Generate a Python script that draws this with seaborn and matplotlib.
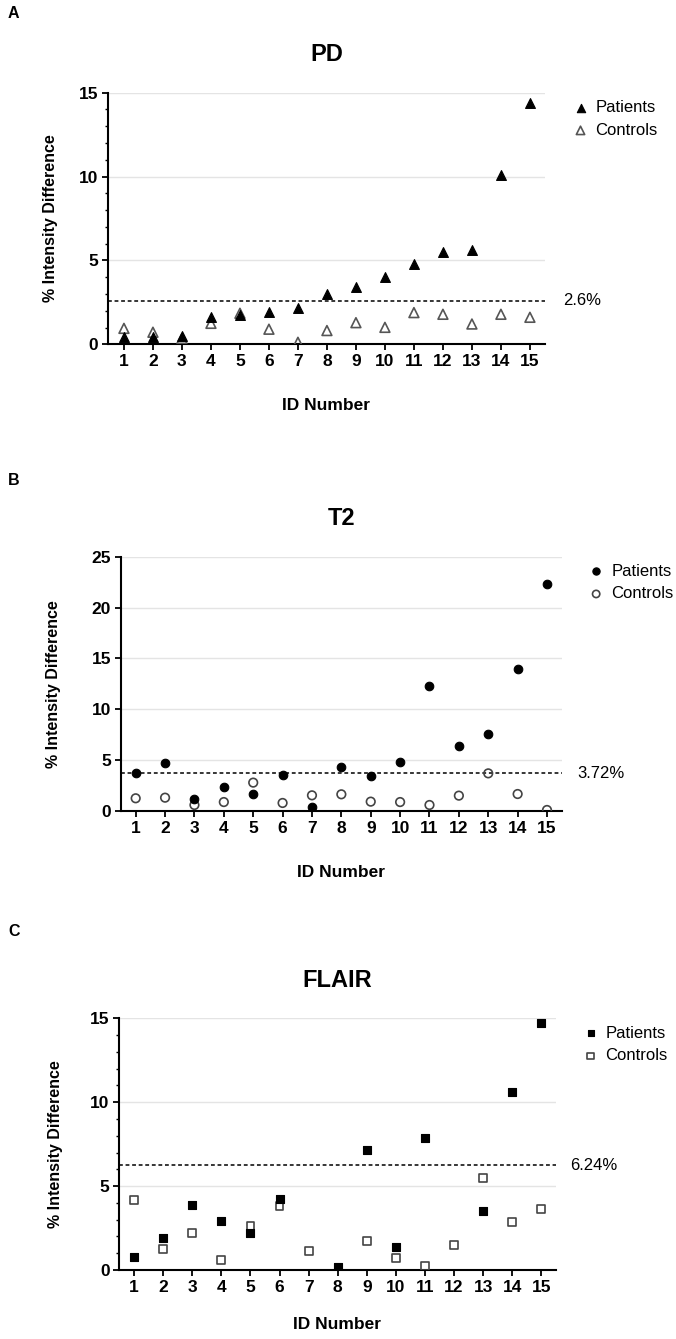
import numpy as np
import pandas as pd
import matplotlib
matplotlib.use('Agg')
import matplotlib.pyplot as plt
from matplotlib.ticker import MultipleLocator
import seaborn as sns

ids = list(range(1, 16))

pd_patients = [0.42, 0.42, 0.5, 1.65, 1.73, 1.95, 2.19, 2.98, 3.44, 4.04, 4.79, 5.53, 5.63, 10.1, 14.37]
pd_controls = [0.95, 0.72, 0.35, 1.25, 1.85, 0.9, 0.12, 0.82, 1.29, 1.01, 1.89, 1.79, 1.21, 1.79, 1.61]
pd_cutoff = 2.6

t2_patients = [3.70, 4.69, 1.15, 2.39, 1.67, 3.54, 0.36, 4.36, 3.44, 4.82, 12.32, 6.39, 7.6, 13.96, 22.35]
t2_controls = [1.25, 1.31, 0.59, 0.88, 2.79, 0.79, 1.54, 1.64, 0.92, 0.88, 0.59, 1.51, 3.70, 1.67, 0.1]
t2_cutoff = 3.72

flair_patients = [0.79, 1.89, 3.87, 2.9, 2.23, 4.25, np.nan, 0.2, 7.13, 1.35, 7.89, np.nan, 3.5, 10.59, 14.7]
flair_controls = [4.15, 1.25, 2.2, 0.6, 2.64, 3.81, 1.13, np.nan, 1.73, 0.74, 0.24, 1.47, 5.48, 2.86, 3.62]
flair_cutoff = 6.24

sns.set_theme(style="ticks")
plt.rcParams['font.family'] = ['Liberation Sans', 'DejaVu Sans']
for key in ('text.color', 'axes.labelcolor', 'xtick.color', 'ytick.color', 'axes.edgecolor'):
    plt.rcParams[key] = 'black'

W, H = 676, 1339
fig = plt.figure(figsize=(W / 100, H / 100), dpi=100)


def px_axes(left, right, top, bottom):
    return fig.add_axes([left / W, (H - bottom) / H, (right - left) / W, (bottom - top) / H])


panels = [
    dict(letter='A', letter_y=14, title='PD', box=(108, 545, 92.7, 344.3), xlim=(0.45, 15.52),
         ymax=15, minor=True, marker='^', size=50, patients=pd_patients, controls=pd_controls,
         cutoff=pd_cutoff, cut_label='2.6%', cut_x=1.041, leg=(1.066, 0.97), edge='#555555',
         xpad=21, ypad=15),
    dict(letter='B', letter_y=480, title='T2', box=(120.7, 561.7, 556.7, 811), xlim=(0.49, 15.5),
         ymax=25, minor=False, marker='o', size=38, patients=t2_patients, controls=t2_controls,
         cutoff=t2_cutoff, cut_label='3.72%', cut_x=1.035, leg=(1.063, 0.972), edge='#444444',
         xpad=21, ypad=22),
    dict(letter='C', letter_y=931, title='FLAIR', box=(119.3, 555.5, 1018.3, 1270), xlim=(0.49, 15.49),
         ymax=15, minor=True, marker='s', size=32, patients=flair_patients, controls=flair_controls,
         cutoff=flair_cutoff, cut_label='6.24%', cut_x=1.033, leg=(1.065, 0.97), edge='#444444',
         xpad=16, ypad=19.5),
]

for p in panels:
    ax = px_axes(*p['box'])
    df = pd.DataFrame({'ID': ids, 'Patients': p['patients'], 'Controls': p['controls']})

    sns.scatterplot(data=df, x='ID', y='Patients', marker=p['marker'], s=p['size'],
                    color='black', edgecolor='black', linewidth=0.8, label='Patients',
                    ax=ax, zorder=4)
    sns.scatterplot(data=df, x='ID', y='Controls', marker=p['marker'], s=p['size'],
                    facecolor='none', edgecolor=p['edge'], linewidth=1.2, label='Controls',
                    ax=ax, zorder=3)

    ax.axhline(p['cutoff'], color='black', lw=1.1, ls=(0, (2.5, 1.8)), zorder=2)
    ax.text(p['cut_x'], p['cutoff'], p['cut_label'], transform=ax.get_yaxis_transform(),
            va='center', ha='left', fontsize=12)

    ax.set_xlim(*p['xlim'])
    ax.set_ylim(0, p['ymax'])
    ax.set_xticks(ids)
    ax.yaxis.set_major_locator(MultipleLocator(5))
    if p['minor']:
        ax.yaxis.set_minor_locator(MultipleLocator(1))
    for yv in range(5, p['ymax'] + 1, 5):
        ax.axhline(yv, color='#e4e4e4', lw=1.0, zorder=0)

    ax.tick_params(axis='both', which='major', length=4, width=1.3, pad=3, labelsize=12.5)
    ax.tick_params(axis='y', which='minor', length=2.5, width=1.0)
    for lab in ax.get_xticklabels() + ax.get_yticklabels():
        lab.set_fontweight('bold')
    sns.despine(ax=ax)
    for s in ('left', 'bottom'):
        ax.spines[s].set_linewidth(1.5)

    ax.set_title(p['title'], fontsize=17, fontweight='bold', pad=22.5)
    ax.set_xlabel('ID Number', fontsize=12.5, fontweight='bold', labelpad=p['xpad'])
    ax.set_ylabel('% Intensity Difference', fontsize=11.5, fontweight='bold', labelpad=p['ypad'])

    ax.legend(loc='upper left', bbox_to_anchor=p['leg'], frameon=False, fontsize=12,
              borderpad=0, borderaxespad=0, handlelength=0.8, handletextpad=0.5,
              labelspacing=0.45, markerscale=0.85)

    fig.text(8 / W, 1 - p['letter_y'] / H, p['letter'], fontsize=11.5, fontweight='bold',
             va='center', ha='left')

fig.savefig('out.png', dpi=100)
